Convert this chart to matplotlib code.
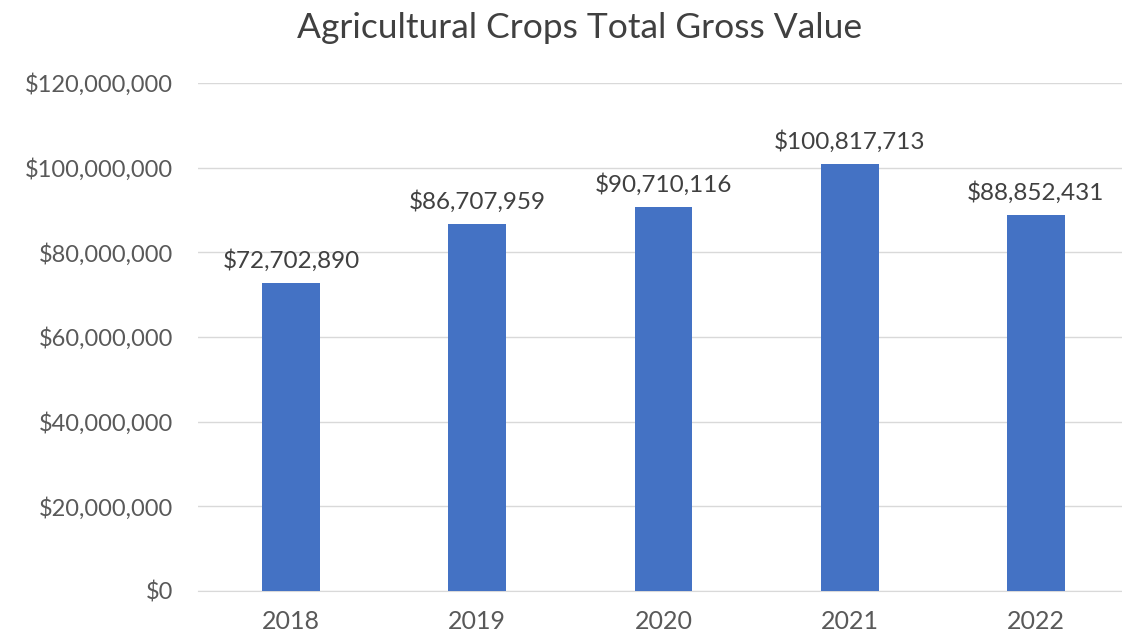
import matplotlib.pyplot as plt
from matplotlib.ticker import FuncFormatter

plt.rcParams['font.family'] = ['Lato', 'DejaVu Sans']

# Data
years = ["2018", "2019", "2020", "2021", "2022"]
values = [72702890, 86707959, 90710116, 100817713, 88852431]

fig = plt.figure(figsize=(11.22, 6.35), dpi=100)
ax = fig.add_axes([198/1122, 1 - 591/635, 931/1122, 508/635])

x = range(len(years))
ax.bar(x, values, width=0.31, color="#4472C4", zorder=3)

for xi, v in zip(x, values):
    ax.annotate(f"${v:,.0f}", (xi, v), xytext=(0, 8), textcoords="offset points",
                ha="center", va="bottom", fontsize=17.5, color="#404040")

ax.set_xlim(-0.5, len(years) - 0.5)
ax.set_ylim(0, 120000000)
ax.set_yticks(range(0, 120000001, 20000000))
ax.yaxis.set_major_formatter(FuncFormatter(lambda v, p: f"${v:,.0f}"))
ax.set_xticks(list(x))
ax.set_xticklabels(years)

ax.grid(axis="y", color="#D9D9D9", linewidth=1, zorder=0)
for s in ["top", "right", "left"]:
    ax.spines[s].set_visible(False)
ax.spines["bottom"].set_color("#D9D9D9")
ax.tick_params(axis="both", length=0, labelsize=17, colors="#595959")
ax.tick_params(axis="y", pad=18)
ax.tick_params(axis="x", pad=14, labelsize=18)

fig.text(580/1122, 1 - 28/635, "Agricultural Crops Total Gross Value",
         ha="center", va="center", fontsize=25.5, color="#404040")

fig.savefig("out.png", dpi=100)
